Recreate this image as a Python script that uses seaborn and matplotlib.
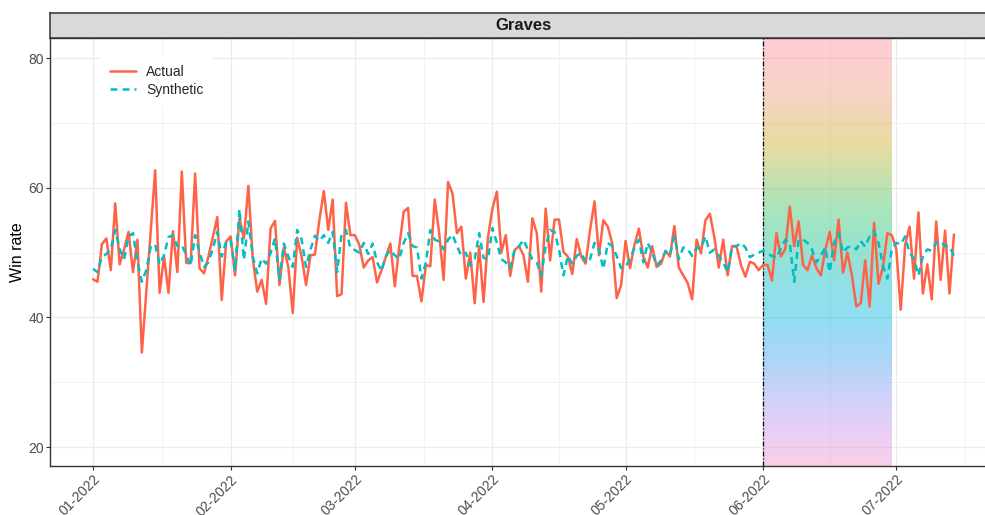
import numpy as np
import pandas as pd
import matplotlib
matplotlib.use("Agg")
import matplotlib.pyplot as plt
import matplotlib.dates as mdates
import seaborn as sns

# ---------------- data ----------------
start_date = "2022-01-01"
treat_start = "2022-06-01"
treat_end = "2022-06-30"
facet_title = "Graves"
y_label = "Win rate"
y_ticks = [20, 40, 60, 80]
series_names = ["Actual", "Synthetic"]

actual = [
    45.9, 45.5, 51.3, 52.2, 47.3, 57.6, 48.2, 50.5, 53.2, 47.0, 52.0, 34.6, 44.0, 53.5, 62.7, 43.8, 49.4, 43.8, 53.3, 47.0, 62.5, 48.4, 48.4, 62.2, 47.6,
    46.8, 49.4, 52.4, 55.5, 42.7, 51.7, 52.5, 46.5, 55.3, 52.2, 60.3, 49.0, 44.0, 45.8, 42.1, 53.7, 54.9, 45.0, 50.8, 47.8, 40.7, 52.3, 49.4, 45.0, 49.6,
    49.7, 55.0, 59.5, 53.5, 58.2, 43.3, 43.6, 57.7, 52.7, 52.7, 51.2, 47.7, 48.8, 49.3, 45.4, 47.3, 49.4, 51.4, 44.8, 50.9, 56.3, 56.9, 46.4, 46.4, 42.5,
    48.1, 47.9, 58.2, 53.0, 45.8, 60.9, 59.1, 53.0, 54.0, 46.0, 50.0, 42.2, 51.0, 42.4, 52.4, 56.8, 59.4, 50.0, 52.7, 46.4, 50.4, 51.0, 49.6, 45.5,
    55.3, 53.0, 44.0, 56.8, 48.8, 55.1, 55.1, 50.1, 49.4, 46.7, 52.1, 49.4, 48.3, 53.5, 57.9, 49.6, 55.0, 54.0, 51.4, 43.0, 45.0, 51.8, 47.6, 51.2, 53.7,
    49.4, 47.7, 51.0, 47.8, 48.3, 50.3, 49.4, 54.1, 47.7, 46.5, 45.3, 42.8, 52.0, 49.9, 55.0, 56.0, 52.4, 47.7, 52.0, 46.5, 51.0, 51.0, 48.1, 46.3, 48.6,
    48.3, 47.3, 48.1, 48.1, 45.7, 53.0, 49.4, 50.6, 57.1, 51.0, 54.8, 48.1, 47.3, 49.6, 47.6, 46.5, 50.4, 53.2, 48.8, 55.1, 46.9, 50.0, 46.5, 41.7, 42.2,
    48.8, 41.7, 54.6, 45.2, 47.8, 53.0, 52.7, 50.6, 41.2, 51.2, 54.0, 46.0, 56.2, 43.7, 48.2, 42.8, 54.8, 45.8, 53.4, 43.7, 52.8,
]

synthetic = [
    47.5, 47.0, 49.4, 49.8, 50.5, 53.5, 50.5, 49.0, 52.5, 53.0, 48.6, 45.5, 47.3, 50.9, 51.3, 48.2, 49.6, 52.4, 52.7, 51.0, 51.2, 49.6, 48.0, 52.7, 50.1,
    47.8, 48.5, 50.6, 53.2, 49.4, 51.7, 52.0, 47.3, 56.7, 48.9, 54.8, 49.4, 46.8, 49.1, 48.3, 49.9, 52.2, 45.8, 51.4, 49.4, 47.8, 53.5, 52.0, 47.8, 50.5,
    52.6, 51.8, 52.7, 51.5, 53.2, 47.0, 52.8, 53.5, 50.7, 50.4, 50.0, 51.5, 49.8, 51.4, 48.5, 47.2, 49.5, 50.4, 49.6, 49.0, 51.5, 53.0, 51.0, 50.8, 46.0,
    48.5, 53.5, 52.0, 51.7, 50.5, 52.0, 52.8, 51.0, 49.5, 50.0, 48.0, 49.0, 53.0, 49.2, 49.0, 53.8, 51.5, 49.0, 48.5, 47.6, 50.5, 51.0, 52.0, 50.4,
    49.0, 48.5, 46.5, 51.0, 53.5, 53.2, 50.5, 46.5, 49.5, 48.3, 49.5, 50.0, 48.5, 49.0, 51.5, 50.5, 47.5, 51.5, 51.0, 49.5, 47.6, 47.8, 49.0, 50.8, 52.0,
    48.5, 51.5, 50.0, 48.0, 48.8, 50.2, 49.6, 52.5, 49.0, 50.8, 50.5, 49.5, 50.7, 50.7, 52.5, 50.0, 50.5, 49.5, 48.5, 47.0, 51.0, 51.0, 51.5, 50.8, 49.3,
    49.7, 50.0, 50.3, 49.8, 49.5, 49.2, 50.7, 52.0, 51.5, 45.5, 52.0, 52.0, 51.5, 50.5, 48.5, 49.5, 50.8, 47.0, 51.5, 53.0, 50.0, 50.8, 51.0, 50.5, 51.8,
    50.9, 52.5, 53.3, 51.5, 48.0, 46.0, 50.5, 51.5, 51.3, 52.5, 50.0, 49.0, 46.5, 49.5, 50.5, 50.3, 51.5, 51.8, 51.0, 51.0, 49.5,
]

n = min(len(actual), len(synthetic))
actual = actual[:n]
synthetic = synthetic[:n]
dates = pd.date_range(start_date, periods=n, freq="D")
df = pd.DataFrame({
    "date": list(dates) + list(dates),
    "value": actual + synthetic,
    "series": [series_names[0]] * n + [series_names[1]] * n,
})

# ---------------- style ----------------
sns.set_theme(style="white")
plt.rcParams["font.family"] = ["Liberation Sans", "DejaVu Sans"]

W, H = 985, 515
fig = plt.figure(figsize=(W / 100, H / 100), dpi=100)
fig.patch.set_facecolor("white")

ax_left, ax_right, ax_top, ax_bottom = 50, 997, 38, 466
ax_w = ax_right - ax_left
ax = fig.add_axes([ax_left / W, (H - ax_bottom) / H,
                   ax_w / W, (ax_bottom - ax_top) / H])
ax.set_facecolor("white")

# limits (ggplot-like 5% expansion on x)
d0 = dates[0]
d1 = dates[-1]
span = (d1 - d0).days
pad = pd.Timedelta(days=span * 0.05)
xmin, xmax = d0 - pad, d1 + pad
ymin, ymax = 17.1, 83.1

# gradient rectangle (treatment period)
stops = [
    (0.00, (255, 205, 215)),
    (0.12, (248, 210, 200)),
    (0.25, (232, 220, 160)),
    (0.38, (175, 228, 185)),
    (0.46, (155, 228, 200)),
    (0.55, (145, 225, 225)),
    (0.65, (145, 222, 242)),
    (0.74, (168, 214, 247)),
    (0.84, (207, 210, 250)),
    (0.93, (236, 206, 245)),
    (1.00, (250, 206, 232)),
]
alpha = 0.5
N = 256
pos = np.linspace(0, 1, N)
sp = np.array([s[0] for s in stops])
sc = np.array([s[1] for s in stops], dtype=float)
target = np.stack([np.interp(pos, sp, sc[:, k]) for k in range(3)], axis=1)
base = np.clip((target - 255 * (1 - alpha)) / alpha, 0, 255) / 255.0
rgba = np.concatenate([base, np.full((N, 1), alpha)], axis=1)
img = rgba[:, None, :]
x0 = mdates.date2num(pd.Timestamp(treat_start))
x1 = mdates.date2num(pd.Timestamp(treat_end))

# grid
months = pd.date_range("2022-01-01", "2022-08-01", freq="MS")
major = months[:-1]
minor = [m + (months[i + 1] - m) / 2 for i, m in enumerate(months[:-1])]
ax.set_xticks(major)
ax.set_xticks(minor, minor=True)
ax.set_yticks(y_ticks)
ax.set_yticks([30, 50, 70], minor=True)
ax.grid(which="major", color="#EBEBEB", lw=0.9)
ax.grid(which="minor", color="#F0F0F0", lw=0.6)
ax.set_axisbelow(True)

ax.imshow(img, extent=[x0, x1, ymin, ymax], aspect="auto", origin="upper",
          zorder=1, interpolation="bilinear")

sns.lineplot(data=df, x="date", y="value", hue="series", style="series",
             palette={series_names[0]: "#FF6347", series_names[1]: "#00BFC4"},
             dashes={series_names[0]: "", series_names[1]: (2.8, 2.0)},
             linewidth=1.8, estimator=None, ax=ax, zorder=3)

ax.axvline(pd.Timestamp(treat_start), color="black", lw=0.9,
           ls=(0, (4, 1.5, 1, 1.5)), zorder=2.5)

ax.set_xlim(xmin, xmax)
ax.set_ylim(ymin, ymax)
ax.xaxis.set_major_formatter(mdates.DateFormatter("%m-%Y"))

for s in ax.spines.values():
    s.set_color("#333333")
    s.set_linewidth(1.0)

ax.tick_params(which="major", length=3, width=0.8, color="#333333",
               labelcolor="#4D4D4D", labelsize=10, pad=1.5, bottom=True, left=True)
ax.tick_params(which="minor", length=0)
for lbl in ax.get_xticklabels():
    lbl.set_rotation(45)
    lbl.set_ha("right")
    lbl.set_va("top")
    lbl.set_rotation_mode("anchor")

ax.set_xlabel("")
ax.set_ylabel(y_label, fontsize=11.5, color="black")
ax.yaxis.set_label_coords(-(ax_left - 17) / ax_w, 0.5)
ax.yaxis.label.set_va("center")

handles, labels = ax.get_legend_handles_labels()
leg = ax.legend(handles, labels, loc="upper left",
                bbox_to_anchor=(100 / W, 1 - 55 / H), bbox_transform=fig.transFigure,
                frameon=True, facecolor="white", edgecolor="none", framealpha=1,
                fancybox=False, fontsize=10, handlelength=1.9, borderpad=0.7,
                labelspacing=0.3, borderaxespad=0, handletextpad=0.7, title=None)

# facet strip
sax = fig.add_axes([ax_left / W, (H - ax_top) / H, ax_w / W, 25 / H])
sax.set_facecolor("#D9D9D9")
sax.set_xticks([])
sax.set_yticks([])
for s in sax.spines.values():
    s.set_color("#333333")
    s.set_linewidth(1.1)
sax.text(0.5, 0.5, facet_title, ha="center", va="center", fontsize=12,
         fontweight="bold", color="#1A1A1A", transform=sax.transAxes)

fig.savefig("out.png", dpi=100)
